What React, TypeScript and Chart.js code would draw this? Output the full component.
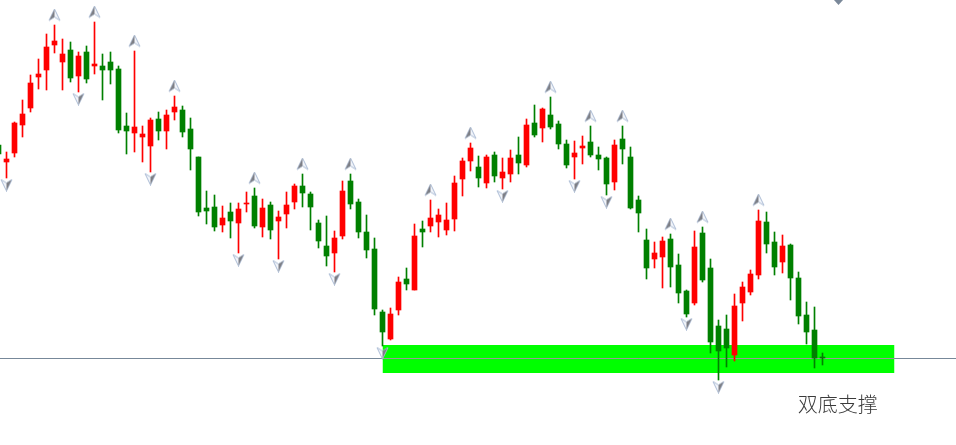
import { useEffect, useRef } from "react";
import { Chart, registerables } from "chart.js";

Chart.register(...registerables);

// Bar index of the first candle in the arrays below
const FIRST_BAR = -1;

// OHLC prices (arbitrary price units)
const opens = [
  315, 298, 307, 335, 352, 383, 390, 415, 398, 410, 384, 408, 394, 394, 398, 391, 334, 327, 323, 314,
  341, 329, 348, 350, 331, 303, 252, 253, 235, 248, 237, 256, 264, 233, 255, 239, 246, 258, 274, 266,
  237, 214, 207, 224, 279, 258, 228, 211, 148, 121, 150, 181, 170, 231, 234, 238, 230, 241, 281, 299,
  293, 277, 305, 282, 286, 305, 295, 337, 332, 345, 336, 316, 303, 312, 318, 305, 302, 278, 321, 303,
  260, 220, 201, 203, 221, 195, 169, 157, 227, 192, 134, 131, 105, 157, 168, 185, 238, 218, 198, 215,
  182, 145, 130, 103,
];
const highs = [
  322, 308, 338, 360, 385, 401, 426, 435, 421, 418, 408, 414, 438, 406, 408, 394, 347, 409, 334, 342,
  348, 350, 364, 354, 342, 303, 269, 265, 254, 257, 257, 268, 272, 261, 258, 249, 268, 276, 286, 268,
  240, 244, 229, 279, 286, 261, 245, 222, 150, 152, 183, 192, 236, 239, 260, 251, 257, 284, 302, 317,
  304, 305, 308, 302, 310, 323, 341, 355, 352, 363, 339, 320, 319, 324, 334, 313, 303, 320, 334, 313,
  264, 231, 218, 223, 226, 206, 170, 229, 233, 201, 140, 145, 166, 178, 190, 250, 248, 228, 225, 216,
  188, 158, 153, 107,
];
const lows = [
  300, 282, 303, 323, 348, 371, 370, 407, 370, 378, 368, 377, 386, 360, 376, 327, 306, 308, 298, 288,
  320, 311, 340, 323, 290, 244, 236, 229, 228, 222, 207, 248, 232, 223, 221, 201, 232, 251, 253, 230,
  212, 194, 188, 221, 251, 222, 202, 145, 114, 120, 145, 170, 170, 213, 228, 223, 225, 229, 264, 289,
  273, 272, 278, 271, 278, 286, 293, 323, 318, 331, 311, 292, 281, 296, 303, 290, 265, 270, 296, 251,
  228, 181, 192, 172, 173, 157, 143, 155, 178, 107, 80, 93, 99, 139, 165, 181, 207, 185, 187, 160,
  136, 116, 92, 95,
];
const closes = [
  306, 301, 337, 346, 377, 386, 413, 419, 406, 382, 404, 381, 396, 390, 390, 330, 329, 333, 326, 340,
  329, 345, 353, 328, 311, 248, 249, 233, 242, 239, 251, 257, 234, 252, 230, 243, 255, 274, 267, 253,
  219, 204, 222, 269, 256, 228, 210, 151, 128, 146, 178, 176, 224, 228, 242, 245, 240, 277, 299, 312,
  282, 303, 284, 288, 302, 297, 335, 325, 351, 333, 316, 295, 307, 314, 305, 301, 276, 315, 311, 252,
  247, 192, 207, 219, 193, 167, 146, 213, 180, 118, 109, 112, 154, 173, 186, 239, 216, 193, 214, 182,
  144, 128, 102, 102,
];

// Fractal marks (bar indices)
const upFractalBars = [6, 11, 16, 21, 31, 37, 43, 53, 58, 68, 73, 77, 83, 87, 94];
const downFractalBars = [0, 9, 18, 29, 34, 41, 47, 62, 71, 75, 85, 89];

// Support zone ("double bottom")
const zoneFromBar = 47;
const zoneToBar = 111;
const zoneTop = 115;
const zoneBottom = 87;
const priceLineLevel = 101.5;
const zoneLabel = "双底支撑";
const zoneLabelBar = 98.9;
const zoneLabelPrice = 56;

// visible range
const X_MIN = -0.8125;
const X_MAX = 118.6875;
const Y_MIN = 15;
const Y_MAX = 460;

const UP = "#ff0000";
const DOWN = "#008000";

function makeArrow(up: boolean): HTMLCanvasElement {
  const c = document.createElement("canvas");
  c.width = 13;
  c.height = 13;
  const g = c.getContext("2d")!;
  if (!up) {
    g.translate(0, 13);
    g.scale(1, -1);
  }
  g.beginPath();
  g.moveTo(6.5, 0.5);
  g.lineTo(12, 12);
  g.lineTo(6.5, 8.5);
  g.lineTo(1, 12);
  g.closePath();
  g.fillStyle = "#f2f5fa";
  g.fill();
  g.strokeStyle = "#aabbd4";
  g.lineWidth = 1;
  g.stroke();
  g.beginPath();
  g.moveTo(6.5, 1);
  g.lineTo(6.5, 8.5);
  if (up) g.lineTo(1.5, 11.5);
  else g.lineTo(11.5, 11.5);
  g.closePath();
  g.fillStyle = "#7d7f86";
  g.fill();
  return c;
}

export default function App() {
  const ref = useRef<HTMLCanvasElement | null>(null);

  useEffect(() => {
    document.body.style.margin = "0";
    const canvas = ref.current!;
    const bars = opens.map((_, k) => FIRST_BAR + k);
    const colors = bars.map((_, k) => (closes[k] >= opens[k] ? UP : DOWN));

    const wickData = bars.map((x, k) => ({ x, y: [lows[k], highs[k]] }));
    const bodyData = bars.map((x, k) => ({ x, y: [opens[k], closes[k]] }));
    const upArrowData = upFractalBars.map((b) => ({ x: b, y: highs[b - FIRST_BAR] + 10 }));
    const downArrowData = downFractalBars.map((b) => ({ x: b, y: lows[b - FIRST_BAR] - 7 }));

    const labelPlugin = {
      id: "labels",
      afterDraw(chart: any) {
        const { ctx, scales } = chart;
        ctx.save();
        ctx.font = '300 20px "Noto Sans CJK SC"';
        ctx.fillStyle = "#3a3a3a";
        ctx.textBaseline = "middle";
        ctx.textAlign = "left";
        ctx.fillText(zoneLabel, scales.x.getPixelForValue(zoneLabelBar), scales.y.getPixelForValue(zoneLabelPrice));
        // chart-shift marker
        ctx.fillStyle = "#7a8899";
        ctx.beginPath();
        ctx.moveTo(834, 0);
        ctx.lineTo(843, 0);
        ctx.lineTo(838.5, 5);
        ctx.closePath();
        ctx.fill();
        ctx.restore();
      },
    };

    const chart = new Chart(canvas, {
      type: "bar",
      data: {
        datasets: [
          {
            type: "line",
            data: [
              { x: zoneFromBar, y: zoneTop },
              { x: zoneToBar, y: zoneTop },
            ],
            borderWidth: 0,
            borderColor: "rgba(0,0,0,0)",
            backgroundColor: "#00ff00",
            pointRadius: 0,
            fill: { value: zoneBottom },
            order: 6,
          } as any,
          {
            type: "line",
            data: [
              { x: X_MIN, y: priceLineLevel },
              { x: X_MAX, y: priceLineLevel },
            ],
            borderWidth: 1,
            borderColor: "#778899",
            pointRadius: 0,
            fill: false,
            order: 5,
          } as any,
          {
            type: "line",
            data: [
              { x: zoneFromBar, y: priceLineLevel },
              { x: zoneToBar, y: priceLineLevel },
            ],
            borderWidth: 1,
            borderColor: "#999999",
            pointRadius: 0,
            fill: false,
            order: 4,
          } as any,
          {
            type: "bar",
            data: wickData as any,
            backgroundColor: colors,
            barThickness: 1,
            grouped: false,
            borderWidth: 0,
            order: 3,
          } as any,
          {
            type: "bar",
            data: bodyData as any,
            backgroundColor: colors,
            barThickness: 5,
            minBarLength: 1,
            grouped: false,
            borderWidth: 0,
            order: 2,
          } as any,
          {
            type: "scatter",
            data: upArrowData,
            pointStyle: makeArrow(true),
            order: 1,
          } as any,
          {
            type: "scatter",
            data: downArrowData,
            pointStyle: makeArrow(false),
            order: 1,
          } as any,
        ],
      },
      options: {
        animation: false,
        responsive: false,
        events: [],
        layout: { padding: 0, autoPadding: false },
        plugins: {
          legend: { display: false },
          tooltip: { enabled: false },
          title: { display: false },
        },
        scales: {
          x: { type: "linear", min: X_MIN, max: X_MAX, display: false, offset: false },
          y: { type: "linear", min: Y_MIN, max: Y_MAX, display: false },
        },
      },
      plugins: [labelPlugin],
    });
    return () => chart.destroy();
  }, []);

  return (
    <div style={{ width: 956, height: 445, background: "#ffffff" }}>
      <canvas ref={ref} width={956} height={445} style={{ display: "block" }} />
    </div>
  );
}
